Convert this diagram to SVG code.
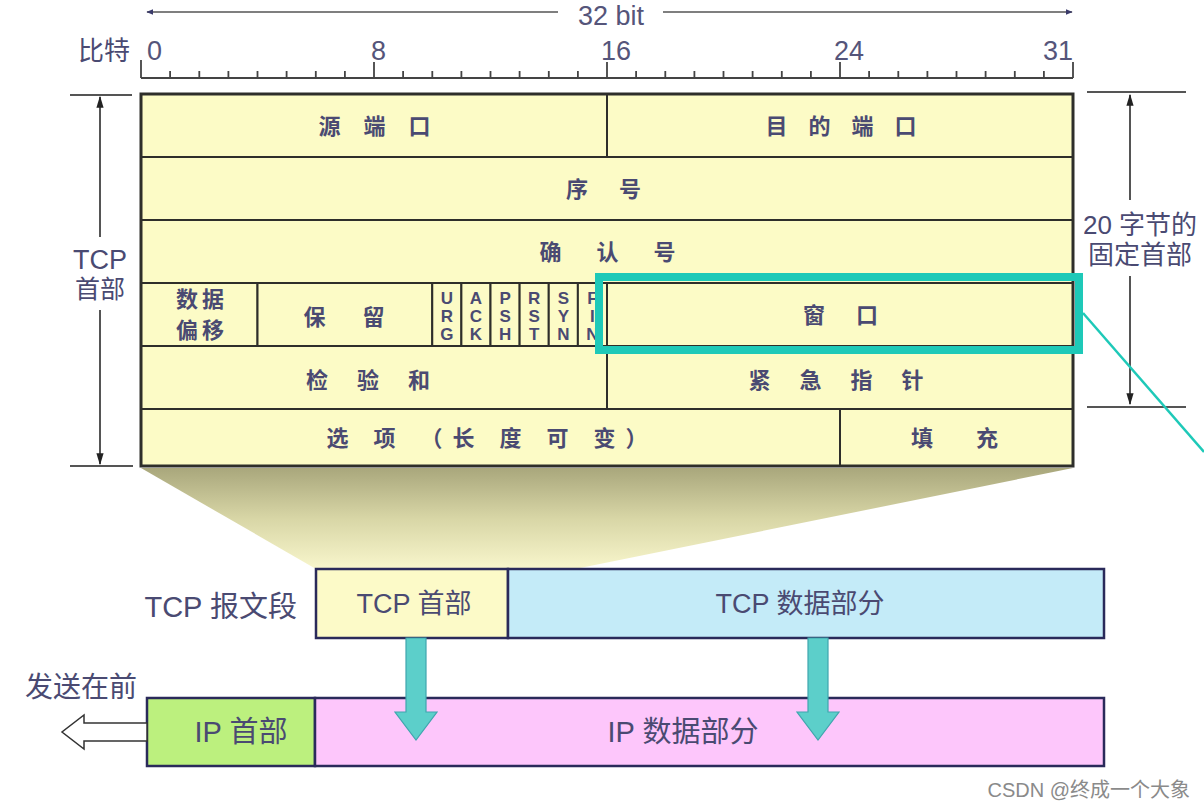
<svg xmlns="http://www.w3.org/2000/svg" width="1204" height="810" viewBox="0 0 1204 810">
<defs>
<style>
.t{font-family:"Liberation Sans","Noto Sans CJK SC",sans-serif;fill:#4a4a72;}
.tb{font-family:"Noto Sans CJK SC","Liberation Sans",sans-serif;fill:#4a4a72;font-weight:bold;font-size:22px;text-anchor:middle;}
.fl{font-family:"Liberation Sans",sans-serif;fill:#4a4a72;font-weight:bold;font-size:17px;text-anchor:middle;}
.num{font-family:"Liberation Sans",sans-serif;fill:#55557a;font-size:27px;}
.cell{fill:#fcfbc6;stroke:#2e2e2a;stroke-width:2;}
.dim{stroke:#555;stroke-width:2;fill:none;}
.box{stroke:#2a2a5a;stroke-width:2.5;}
.down{fill:#5ccfca;stroke:#3fa6ae;stroke-width:1.2;}
</style>
<marker id="ah" viewBox="0 0 10 10" refX="9" refY="5" markerWidth="7" markerHeight="7" orient="auto-start-reverse" markerUnits="userSpaceOnUse">
<path d="M0,1 L10,5 L0,9 Z" fill="#3a3a6a"/>
</marker>
<marker id="ah2" viewBox="0 0 10 10" refX="9" refY="5" markerWidth="12" markerHeight="12" orient="auto-start-reverse" markerUnits="userSpaceOnUse">
<path d="M0,2 L10,5 L0,8 Z" fill="#222"/>
</marker>
<linearGradient id="shade" x1="0" y1="0" x2="0" y2="1">
<stop offset="0" stop-color="#a9a77c"/>
<stop offset="0.5" stop-color="#d8d6a6"/>
<stop offset="1" stop-color="#f8f6cc"/>
</linearGradient>
</defs>
<rect width="1204" height="810" fill="#ffffff"/>

<g id="top-width">
<line x1="147" y1="12" x2="558" y2="12" stroke="#555" stroke-width="1.5" marker-start="url(#ah)"/>
<line x1="663" y1="12" x2="1072" y2="12" stroke="#555" stroke-width="1.5" marker-end="url(#ah)"/>
<text class="num" x="611" y="25" text-anchor="middle" font-size="28">32 bit</text>
</g>

<g id="ruler">
<text class="t" x="104" y="60" font-size="26" text-anchor="middle">比特</text>
<text class="num" x="147" y="60">0</text>
<text class="num" x="371" y="60">8</text>
<text class="num" x="601" y="60">16</text>
<text class="num" x="834" y="60">24</text>
<text class="num" x="1073" y="60" text-anchor="end">31</text>
<path d="M141,78 H1073 M141,60 V78 M374,62 V78 M607,62 V78 M840,62 V78 M1073,62 V78 M170.1,71 V78 M199.3,71 V78 M228.4,71 V78 M257.5,71 V78 M286.6,71 V78 M315.8,71 V78 M344.9,71 V78 M403.1,71 V78 M432.3,71 V78 M461.4,71 V78 M490.5,71 V78 M519.6,71 V78 M548.8,71 V78 M577.9,71 V78 M636.1,71 V78 M665.3,71 V78 M694.4,71 V78 M723.5,71 V78 M752.6,71 V78 M781.8,71 V78 M810.9,71 V78 M869.1,71 V78 M898.3,71 V78 M927.4,71 V78 M956.5,71 V78 M985.6,71 V78 M1014.8,71 V78 M1043.9,71 V78" stroke="#444" stroke-width="1.8" fill="none"/>
</g>

<g id="shadow">
<polygon points="141,468 1073,468 575,569 316,569" fill="url(#shade)"/>
</g>

<g id="header-table">
<g id="row-ports">
<rect class="cell" x="141" y="94" width="466" height="63"/>
<rect class="cell" x="607" y="94" width="466" height="63"/>
<text class="tb" x="379" y="134" letter-spacing="9">源 端 口</text>
<text class="tb" x="845" y="134" letter-spacing="8">目 的 端 口</text>
</g>
<g id="row-seq">
<rect class="cell" x="141" y="157" width="932" height="63"/>
<text class="tb" x="610" y="197" letter-spacing="13">序 号</text>
</g>
<g id="row-ack">
<rect class="cell" x="141" y="220" width="932" height="63"/>
<text class="tb" x="615" y="260" letter-spacing="15">确 认 号</text>
</g>
<g id="row-flags">
<rect class="cell" x="141" y="283" width="116.5" height="63"/>
<rect class="cell" x="257.5" y="283" width="174.75" height="63"/>
<rect class="cell" x="432.25" y="283" width="29.125" height="63"/>
<rect class="cell" x="461.375" y="283" width="29.125" height="63"/>
<rect class="cell" x="490.5" y="283" width="29.125" height="63"/>
<rect class="cell" x="519.625" y="283" width="29.125" height="63"/>
<rect class="cell" x="548.75" y="283" width="29.125" height="63"/>
<rect class="cell" x="577.875" y="283" width="29.125" height="63"/>
<rect class="cell" x="607" y="283" width="466" height="63"/>
<text class="tb" x="202" y="307" letter-spacing="4">数据</text>
<text class="tb" x="202" y="338" letter-spacing="4">偏移</text>
<text class="tb" x="352" y="325" letter-spacing="16">保 留</text>
<text class="fl" x="446.8" y="304">U</text><text class="fl" x="446.8" y="322">R</text><text class="fl" x="446.8" y="340">G</text>
<text class="fl" x="475.9" y="304">A</text><text class="fl" x="475.9" y="322">C</text><text class="fl" x="475.9" y="340">K</text>
<text class="fl" x="505.1" y="304">P</text><text class="fl" x="505.1" y="322">S</text><text class="fl" x="505.1" y="340">H</text>
<text class="fl" x="534.2" y="304">R</text><text class="fl" x="534.2" y="322">S</text><text class="fl" x="534.2" y="340">T</text>
<text class="fl" x="563.3" y="304">S</text><text class="fl" x="563.3" y="322">Y</text><text class="fl" x="563.3" y="340">N</text>
<text class="fl" x="592.4" y="304">F</text><text class="fl" x="592.4" y="322">I</text><text class="fl" x="592.4" y="340">N</text>
<text class="tb" x="847" y="323" letter-spacing="13">窗 口</text>
</g>
<g id="row-checksum">
<rect class="cell" x="141" y="346" width="466" height="63"/>
<rect class="cell" x="607" y="346" width="466" height="63"/>
<text class="tb" x="374" y="388" letter-spacing="12">检 验 和</text>
<text class="tb" x="842" y="388" letter-spacing="12">紧 急 指 针</text>
</g>
<g id="row-options">
<rect class="cell" x="141" y="409" width="699" height="57"/>
<rect class="cell" x="840" y="409" width="233" height="57"/>
<text class="tb" x="492" y="446" letter-spacing="10">选 项 （长 度 可 变）</text>
<text class="tb" x="964" y="446" letter-spacing="19">填 充</text>
</g>
<rect x="141" y="94" width="932" height="372" fill="none" stroke="#2e2e2a" stroke-width="3"/>
</g>

<g id="left-dim">
<path class="dim" d="M70,95 H132 M70,466 H133"/>
<line x1="100" y1="237" x2="100" y2="97" class="dim" marker-end="url(#ah2)"/>
<line x1="100" y1="310" x2="100" y2="464" class="dim" marker-end="url(#ah2)"/>
<text class="t" x="100" y="269" font-size="27" text-anchor="middle">TCP</text>
<text class="t" x="100" y="298" font-size="25" text-anchor="middle">首部</text>
</g>

<g id="right-dim">
<path class="dim" d="M1087,92 H1186 M1087,407 H1186"/>
<line x1="1130" y1="200" x2="1130" y2="95" class="dim" marker-end="url(#ah2)"/>
<line x1="1130" y1="276" x2="1130" y2="404" class="dim" marker-end="url(#ah2)"/>
<text class="t" x="1140" y="234" font-size="26" text-anchor="middle">20 字节的</text>
<text class="t" x="1140" y="264" font-size="26" text-anchor="middle">固定首部</text>
</g>

<g id="highlight">
<rect x="599" y="277" width="480" height="73" fill="none" stroke="#1ec9b8" stroke-width="8"/>
<line x1="1083" y1="313" x2="1204" y2="452" stroke="#1ec9b8" stroke-width="2.5"/>
</g>

<g id="tcp-segment">
<text class="t" x="297" y="617" font-size="29" text-anchor="end">TCP 报文段</text>
<g id="tcp-header">
<rect class="box" x="316" y="569" width="192" height="69" fill="#fcfac8"/>
<text class="t" x="414" y="613" font-size="27" text-anchor="middle">TCP 首部</text>
</g>
<g id="tcp-data">
<rect class="box" x="508" y="569" width="596" height="69" fill="#c4ebf8"/>
<text class="t" x="800" y="613" font-size="27" text-anchor="middle">TCP 数据部分</text>
</g>
</g>

<g id="ip-datagram">
<text class="t" x="81" y="697" font-size="28" text-anchor="middle">发送在前</text>
<g id="ip-header">
<rect class="box" x="147" y="698" width="168" height="68" fill="#bcf07e"/>
<text class="t" x="241" y="742" font-size="29" text-anchor="middle">IP 首部</text>
</g>
<g id="ip-data">
<rect class="box" x="315" y="698" width="789" height="68" fill="#fdc6fb"/>
<text class="t" x="683" y="742" font-size="29" text-anchor="middle">IP 数据部分</text>
</g>
</g>

<g id="connectors">
<path d="M147,723 H84 V715 L62,732 L84,749 V741 H147 Z" fill="#fff" stroke="#333" stroke-width="1.5"/>
<path class="down" d="M406,638 H426 V712 H437 L416,740 L395,712 H406 Z"/>
<path class="down" d="M808,638 H828 V712 H839 L818,740 L797,712 H808 Z"/>
</g>

<text x="1190" y="797" font-family="Liberation Sans, Noto Sans CJK SC, sans-serif" font-size="20" fill="#8a8a8a" text-anchor="end">CSDN @终成一个大象</text>
</svg>
